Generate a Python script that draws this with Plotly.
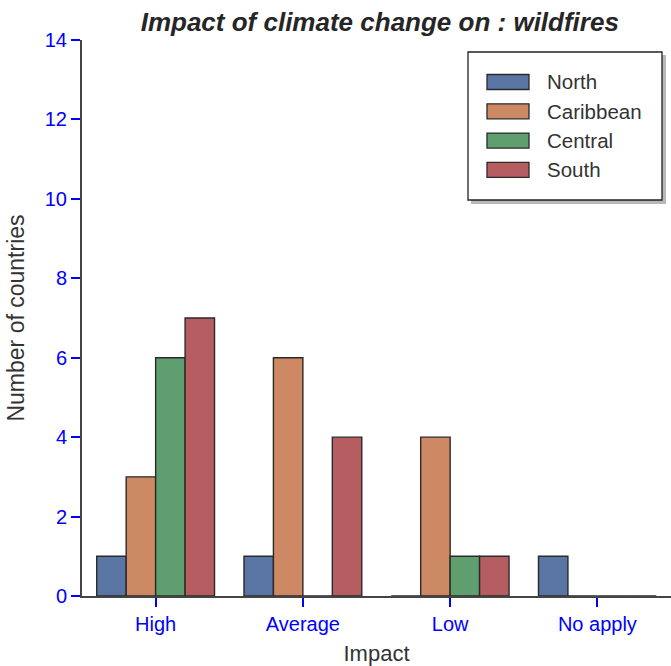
import plotly.graph_objects as go

categories = ["High", "Average", "Low", "No apply"]
regions = ["North", "Caribbean", "Central", "South"]
north = [1, 1, 0, 1]
caribbean = [3, 6, 4, 0]
central = [6, 0, 1, 0]
south = [7, 4, 1, 0]
series = [north, caribbean, central, south]
colors = ["#5975a4", "#cc8963", "#5f9e6e", "#b55d60"]

W, H = 671, 666
L, R, T, B = 82, 0, 40, 70
PW, PH = W - L - R, H - T - B


def px(x):
    return (x - L) / PW


def py(y):
    return (H - B - y) / PH


fig = go.Figure()
for name, vals, col in zip(regions, series, colors):
    fig.add_trace(go.Bar(
        name=name, x=categories, y=vals, showlegend=False,
        marker=dict(color=col, line=dict(color="#2a2a2a", width=1.4)),
    ))

fig.update_layout(
    width=W, height=H,
    margin=dict(l=L, r=R, t=T, b=B),
    paper_bgcolor="white", plot_bgcolor="white",
    barmode="group", bargap=0.2, bargroupgap=0,
    font=dict(family="Liberation Sans, Arial", size=20, color="#333333"),
    title=dict(text="<b><i>Impact of climate change on : wildfires</i></b>",
               x=0.566, xanchor="center", y=1 - 22 / H, yanchor="middle",
               font=dict(size=26, color="#262626")),
    xaxis=dict(range=[-0.5, 3.5], showline=True, linecolor="#444444", linewidth=2,
               ticks="outside", tickcolor="blue", ticklen=9, tickwidth=2,
               tickfont=dict(color="blue", size=20), showgrid=False, automargin=False,
               title=dict(text="Impact", font=dict(size=22, color="#333333"), standoff=12)),
    yaxis=dict(range=[0, 14], dtick=2, showline=True, linecolor="#444444", linewidth=2,
               ticks="outside", tickcolor="blue", ticklen=9, tickwidth=2,
               tickfont=dict(color="blue", size=20), showgrid=False, zeroline=False,
               automargin=False,
               title=dict(text="Number of countries", font=dict(size=23, color="#333333"), standoff=14)),
)

# custom legend box (with drop shadow), built from the regions / colors lists
bx0, bx1, by0, by1 = 468, 662, 52, 200
fig.add_shape(type="rect", xref="paper", yref="paper",
              x0=px(bx0 + 3), x1=px(bx1 + 4), y0=py(by1 + 4), y1=py(by0 + 3),
              fillcolor="#9a9a9a", line=dict(width=0), opacity=0.7)
fig.add_shape(type="rect", xref="paper", yref="paper",
              x0=px(bx0), x1=px(bx1), y0=py(by1), y1=py(by0),
              fillcolor="white", line=dict(color="#222222", width=1.3))
for i, (name, col) in enumerate(zip(regions, colors)):
    cy = 82 + i * 29.3
    fig.add_shape(type="rect", xref="paper", yref="paper",
                  x0=px(487), x1=px(529), y0=py(cy + 7.5), y1=py(cy - 7.5),
                  fillcolor=col, line=dict(color="#2a2a2a", width=1.3))
    fig.add_annotation(text=name, xref="paper", yref="paper", x=px(545), y=py(cy),
                       xanchor="left", yanchor="middle", showarrow=False,
                       font=dict(size=20.5, color="#333333"))

fig.write_html("out.html", config={"displayModeBar": False},
               post_script="document.body.style.margin='0';")
